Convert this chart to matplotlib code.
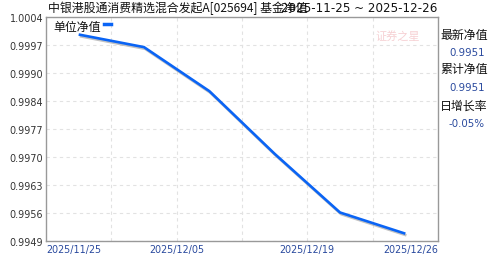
import matplotlib
matplotlib.use("Agg")
import matplotlib.pyplot as plt
import matplotlib.patheffects as pe

plt.rcParams['font.family'] = ['Noto Sans CJK SC', 'DejaVu Sans']

# Data
nav = [0.99997, 0.99966, 0.99858, 0.99704, 0.99560, 0.99508]
x_pos = [0.5, 1.5, 2.5, 3.5, 4.5, 5.5]
y_ticks = [0.9949, 0.99559, 0.99628, 0.99696, 0.99765, 0.99834, 0.99903, 0.99971, 1.0004]
y_labels = ["0.9949", "0.9956", "0.9963", "0.9970", "0.9977", "0.9984", "0.9990", "0.9997", "1.0004"]
x_labels = ["2025/11/25", "2025/12/05", "2025/12/19", "2025/12/26"]
x_label_pos = [0, 2, 4, 6]

title = "中银港股通消费精选混合发起A[025694] 基金净值"
date_range = "2025-11-25 ~ 2025-12-26"
side_items = [("最新净值", "0.9951"), ("累计净值", "0.9951"), ("日增长率", "-0.05%")]

W, H = 488, 255
fig = plt.figure(figsize=(W / 100, H / 100), dpi=100)
ax = fig.add_axes([46 / W, 13 / H, 392 / W, 224 / H])

ax.plot(x_pos, nav, color='#0a64f5', lw=1.9, solid_capstyle='butt',
        path_effects=[pe.SimpleLineShadow(offset=(0.8, -1.2), shadow_color='#9a9a9a', alpha=0.6), pe.Normal()])

ax.set_xlim(0, 6)
ax.set_ylim(y_ticks[0], y_ticks[-1])
ax.set_yticks(y_ticks)
ax.set_yticklabels(y_labels, fontsize=6.9, color='#333333', family='DejaVu Sans')
ax.set_xticks(range(1, 6))
ax.set_xticklabels([])
ax.tick_params(length=0, pad=2)
ax.grid(True, color='#e2e2e2', ls=(0, (3, 3)), lw=0.8)
for s in ax.spines.values():
    s.set_color('#999999')
    s.set_linewidth(1.0)

# x labels placed at grid positions, first/last clamped inside axes
aligns = ['left', 'center', 'center', 'right']
for p, lab, ha in zip(x_label_pos, x_labels, aligns):
    ax.text(p, -11 / 224, lab, transform=ax.get_xaxis_transform(), ha=ha, va='baseline',
            fontsize=6.9, color='#2a4a9e', family='DejaVu Sans')

# legend
ax.text(53 / W, 1 - 28 / H, "单位净值", transform=fig.transFigure, fontsize=8.6,
        color='#111111', va='center', ha='left')
fig.add_artist(plt.Line2D([104 / W, 111 / W], [1 - 25 / H, 1 - 25 / H], color='#0a64f5', lw=2.5))

# watermark
fig.text(398 / W, 1 - 36 / H, "证券之星", fontsize=8, color='#f4c4c8', ha='center', va='center',
         alpha=0.8, style='italic')

# title and date range (overlapping as in source)
fig.text(48 / W, 1 - 8 / H, title, fontsize=8.6, color='#111111', ha='left', va='center')
fig.text(437 / W, 1 - 8 / H, date_range, fontsize=8.6, color='#111111', ha='right', va='center',
         family='DejaVu Sans')

# side panel
label_y = [36, 70, 106]
value_y = [53, 88, 124]
for (lab, val), ly, vy in zip(side_items, label_y, value_y):
    fig.text(440 / W, 1 - ly / H, lab, fontsize=8.6, color='#111111', ha='left', va='center')
    fig.text(485 / W, 1 - vy / H, val, fontsize=7.4, color='#2a4a9e', ha='right', va='center',
             family='DejaVu Sans')

fig.savefig("out.png", dpi=100)
